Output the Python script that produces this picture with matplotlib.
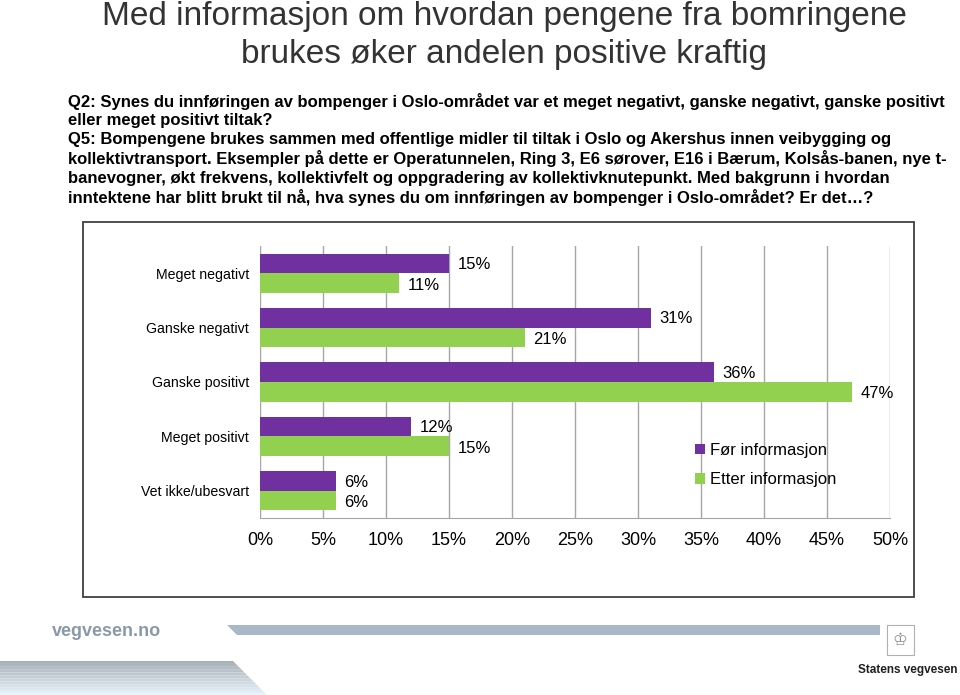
#!/usr/bin/env python3
"""
Grouped horizontal bar chart: attitude to toll money before/after information.
"""

import numpy as np
import matplotlib.pyplot as plt
from matplotlib.patches import Polygon, Rectangle

plt.rcParams["font.family"] = ["Liberation Sans", "DejaVu Sans"]

# Data
categories = ["Meget negativt", "Ganske negativt", "Ganske positivt",
              "Meget positivt", "Vet ikke/ubesvart"]
before = [15, 31, 36, 12, 6]   # Før informasjon
after = [11, 21, 47, 15, 6]    # Etter informasjon
series_names = ["Før informasjon", "Etter informasjon"]
xticks = list(range(0, 51, 5))

title_lines = ["Med informasjon om hvordan pengene fra bomringene",
               "brukes øker andelen positive kraftig"]
question_lines = [
    "Q2: Synes du innføringen av bompenger i Oslo-området var et meget negativt, ganske negativt, ganske positivt",
    "eller meget positivt tiltak?",
    "Q5: Bompengene brukes sammen med offentlige midler til tiltak i Oslo og Akershus innen veibygging og",
    "kollektivtransport. Eksempler på dette er Operatunnelen, Ring 3, E6 sørover, E16 i Bærum, Kolsås-banen, nye t-",
    "banevogner, økt frekvens, kollektivfelt og oppgradering av kollektivknutepunkt. Med bakgrunn i hvordan",
    "inntektene har blitt brukt til nå, hva synes du om innføringen av bompenger i Oslo-området? Er det…?",
]

PURPLE = "#7030A0"
GREEN = "#92D050"

W, H = 960, 695
fig = plt.figure(figsize=(W / 100, H / 100), dpi=100)


def fx(px):
    return px / W


def fy(py):
    return 1 - py / H


# Title (two centred lines)
for i, line in enumerate(title_lines):
    fig.text(fx(504), fy(17 + i * 38), line, ha="center", va="center", fontsize=24,
             color="#333333")

# Question text
for i, line in enumerate(question_lines):
    fig.text(fx(68), fy(101 + i * 19.3), line, ha="left", va="center",
             fontsize=12, fontweight="bold", color="black")

# Chart frame
fig.patches.append(Rectangle((fx(83), fy(597)), fx(914) - fx(83), fy(222) - fy(597),
                             transform=fig.transFigure, fill=False,
                             edgecolor="#404040", linewidth=1.3))

# Axes
ax = fig.add_axes([fx(260), fy(518), fx(890) - fx(260), fy(246) - fy(518)])
y = np.arange(len(categories))
h = 0.36
ax.barh(y - h / 2, before, height=h, color=PURPLE, label=series_names[0], zorder=3)
ax.barh(y + h / 2, after, height=h, color=GREEN, label=series_names[1], zorder=3)

for yi, v in zip(y, before):
    ax.text(v + 0.7, yi - h / 2 + 0.02, f"{v}%", va="center", ha="left", fontsize=12)
for yi, v in zip(y, after):
    ax.text(v + 0.7, yi + h / 2 + 0.04, f"{v}%", va="center", ha="left", fontsize=12)

ax.set_xlim(0, 50)
ax.set_ylim(len(categories) - 0.5, -0.5)
ax.set_xticks(xticks)
ax.set_xticklabels([f"{t}%" for t in xticks], fontsize=13)
ax.set_yticks(y)
ax.set_yticklabels(categories, fontsize=10.2)
ax.tick_params(axis="both", length=0)
ax.tick_params(axis="x", pad=10)
ax.tick_params(axis="y", pad=8)
ax.xaxis.grid(True, color="#A6A6A6", linewidth=1, zorder=0)
for side in ["top", "right", "left"]:
    ax.spines[side].set_visible(False)
ax.spines["bottom"].set_color("#A6A6A6")

ax.legend(loc="upper left", bbox_to_anchor=(0.68, 0.30), frameon=False,
          fontsize=12, handlelength=0.6, handleheight=0.6,
          handletextpad=0.3, labelspacing=0.85, borderaxespad=0)

# Footer decorations
band1 = Polygon([(fx(227), fy(625)), (fx(880), fy(625)), (fx(880), fy(635)),
                 (fx(237), fy(635))], closed=True, transform=fig.transFigure,
                facecolor="#A9B8C8", edgecolor="none")
fig.patches.append(band1)
for k in range(12):
    y0 = 661 + k * 2.9
    shade = np.interp(k, [0, 11], [0.69, 0.95])
    col = (shade - 0.04, shade, shade + 0.03)
    col = tuple(min(c, 1) for c in col)
    fig.patches.append(Polygon([(0, fy(y0)), (fx(233 + k * 2.9), fy(y0)),
                                (fx(233 + (k + 1) * 2.9), fy(y0 + 2.9)), (0, fy(y0 + 2.9))],
                               closed=True, transform=fig.transFigure,
                               facecolor=col, edgecolor="none"))
fig.text(fx(52), fy(632), "vegvesen.no", ha="left", va="center", fontsize=13,
         fontweight="bold", color="#8A99A8")
fig.patches.append(Rectangle((fx(887), fy(655)), fx(27), fy(625) - fy(655),
                             transform=fig.transFigure, fill=False,
                             edgecolor="#B0B0B0", linewidth=0.8))
fig.text(fx(900), fy(640), "♔", ha="center", va="center", fontsize=12,
         color="#909090", family=["DejaVu Sans"])
fig.text(fx(908), fy(670), "Statens vegvesen", ha="center", va="center",
         fontsize=8.5, fontweight="bold", color="#202020")

fig.savefig("out.png", dpi=100)
